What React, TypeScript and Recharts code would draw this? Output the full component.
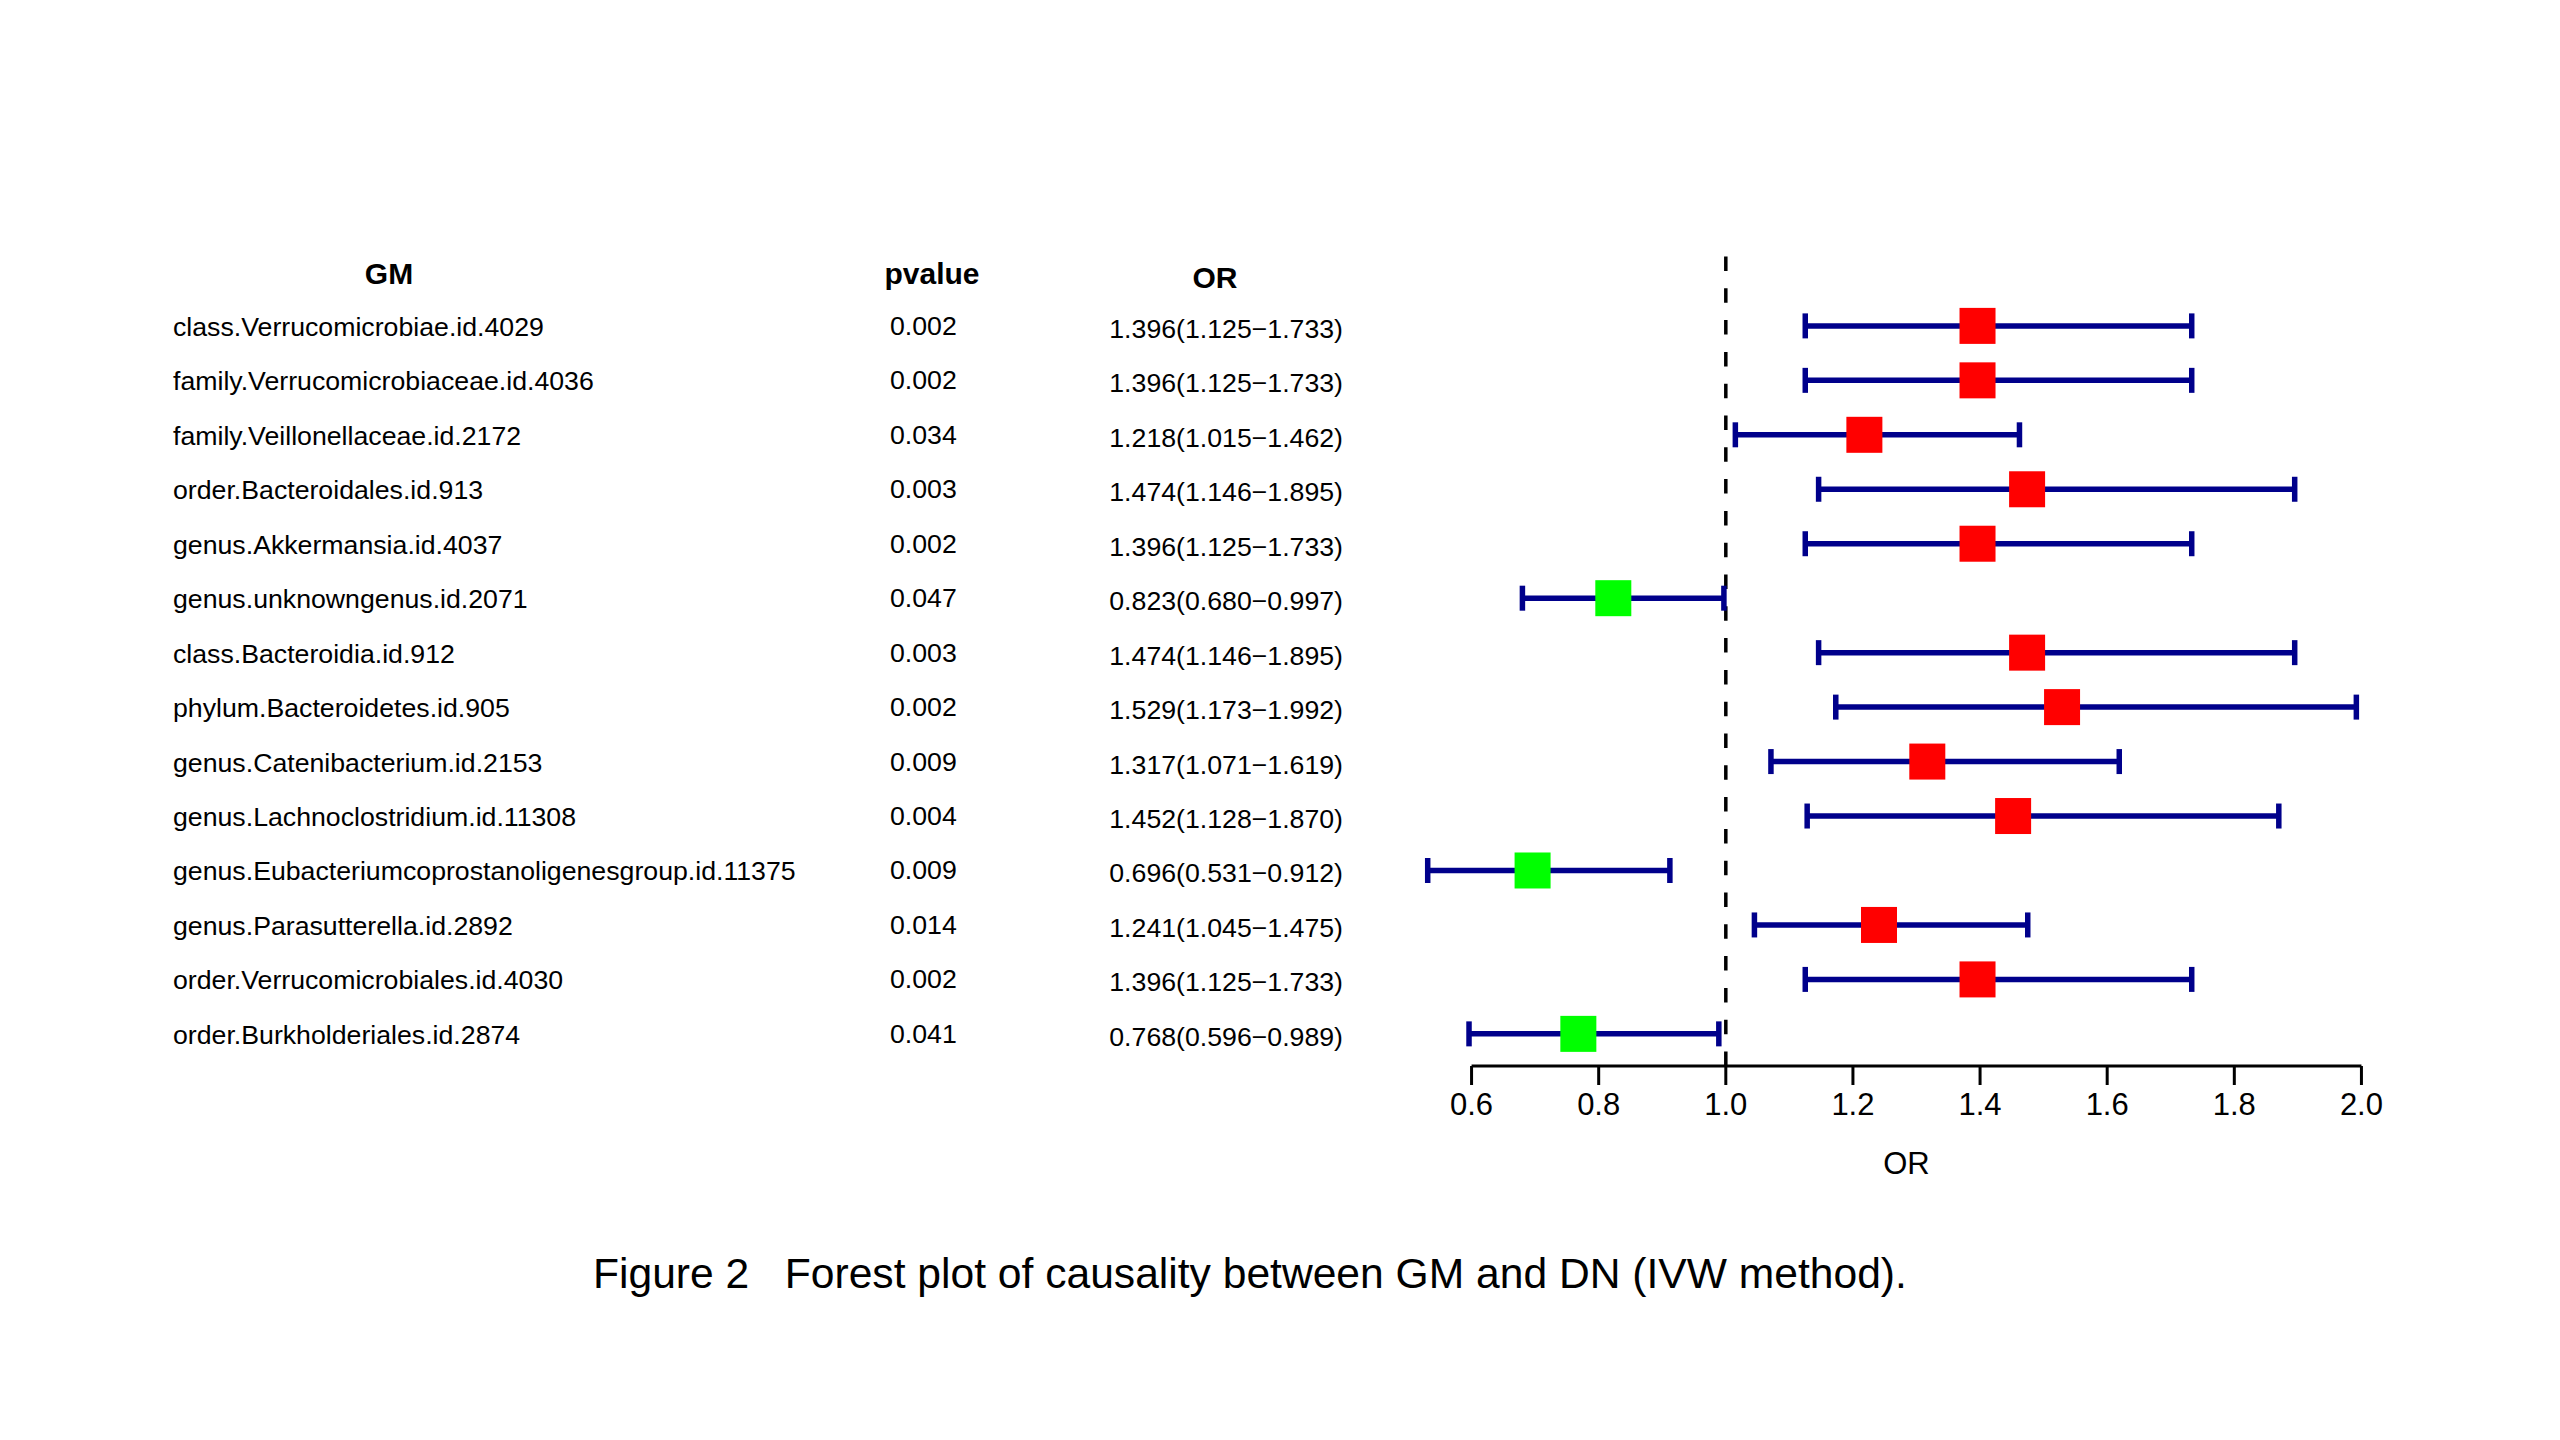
import React from 'react';
import { ScatterChart, Scatter, ErrorBar, XAxis, YAxis, ReferenceLine } from 'recharts';

// Gut microbiota taxa (GM) tested against DN, IVW estimates
const taxa = [
  'class.Verrucomicrobiae.id.4029',
  'family.Verrucomicrobiaceae.id.4036',
  'family.Veillonellaceae.id.2172',
  'order.Bacteroidales.id.913',
  'genus.Akkermansia.id.4037',
  'genus.unknowngenus.id.2071',
  'class.Bacteroidia.id.912',
  'phylum.Bacteroidetes.id.905',
  'genus.Catenibacterium.id.2153',
  'genus.Lachnoclostridium.id.11308',
  'genus.Eubacteriumcoprostanoligenesgroup.id.11375',
  'genus.Parasutterella.id.2892',
  'order.Verrucomicrobiales.id.4030',
  'order.Burkholderiales.id.2874',
];
const pValues = [0.002, 0.002, 0.034, 0.003, 0.002, 0.047, 0.003, 0.002, 0.009, 0.004, 0.009, 0.014, 0.002, 0.041];
const oddsRatios = [1.396, 1.396, 1.218, 1.474, 1.396, 0.823, 1.474, 1.529, 1.317, 1.452, 0.696, 1.241, 1.396, 0.768];
const lowerCI = [1.125, 1.125, 1.015, 1.146, 1.125, 0.68, 1.146, 1.173, 1.071, 1.128, 0.531, 1.045, 1.125, 0.596];
const upperCI = [1.733, 1.733, 1.462, 1.895, 1.733, 0.997, 1.895, 1.992, 1.619, 1.87, 0.912, 1.475, 1.733, 0.989];
const orTicks = [0.6, 0.8, 1.0, 1.2, 1.4, 1.6, 1.8, 2.0];
const columnHeaders = ['GM', 'pvalue', 'OR'];
const axisTitle = 'OR';
const caption = 'Figure 2   Forest plot of causality between GM and DN (IVW method).';

const rows = taxa.map((name, i) => ({
  row: i + 1,
  name,
  p: pValues[i],
  or: oddsRatios[i],
  lo: lowerCI[i],
  hi: upperCI[i],
  ci: [oddsRatios[i] - lowerCI[i], upperCI[i] - oddsRatios[i]],
}));

const FONT = '"Liberation Sans", Arial, Helvetica, sans-serif';
const W = 2544;
const H = 1424;
const Y_MIN = -0.32;
const Y_MAX = 14.59;
const rowTicks = [0, ...rows.map((r) => r.row)];

// columns of the table (chart coordinates)
const NAME_X = 165;
const P_X = 882;
const OR_X = 1335;

const fmtCI = (r: typeof rows[number]) =>
  `${r.or.toFixed(3)}(${r.lo.toFixed(3)}\u2212${r.hi.toFixed(3)})`;

// Each y tick draws one table row: taxon, p value and OR (95% CI)
const RowTick = (props: any) => {
  const { y, payload } = props;
  const idx = Math.round(payload.value);
  if (idx === 0) {
    return (
      <g fontFamily={FONT} fontWeight="bold" fontSize={30} fill="#000">
        <text x={381} y={y + 13} textAnchor="middle">{columnHeaders[0]}</text>
        <text x={924} y={y + 13} textAnchor="middle">{columnHeaders[1]}</text>
        <text x={1207} y={y + 17} textAnchor="middle">{columnHeaders[2]}</text>
      </g>
    );
  }
  const r = rows[idx - 1];
  return (
    <g fontFamily={FONT} fontSize={26.7} fill="#000">
      <text x={NAME_X} y={y + 10}>{r.name}</text>
      <text x={P_X} y={y + 9}>{r.p.toFixed(3)}</text>
      <text x={OR_X} y={y + 12} textAnchor="end">{fmtCI(r)}</text>
    </g>
  );
};

const Box = (props: any) => {
  const { cx, cy, payload } = props;
  const s = 36;
  return (
    <rect
      x={cx - s / 2}
      y={cy - s / 2}
      width={s}
      height={s}
      fill={payload.or > 1 ? '#FF0000' : '#00FF00'}
    />
  );
};

export default function App() {
  return (
    <div style={{ position: 'relative', width: W, height: H, background: '#fff' }}>
      <ScatterChart
        width={W}
        height={H}
        margin={{ top: 246, right: 127, bottom: 226, left: 0 }}
      >
        <XAxis
          type="number"
          dataKey="or"
          domain={[0.5, 2.1]}
          ticks={orTicks}
          interval={0}
          axisLine={false}
          tickLine={{ stroke: '#000', strokeWidth: 3 }}
          tickSize={19}
          tickMargin={8}
          height={140}
          tickFormatter={(v: number) => v.toFixed(1)}
          tick={{ fill: '#000', fontSize: 31, fontFamily: FONT }}
          label={{
            value: axisTitle,
            position: 'insideBottom',
            offset: 32,
            dx: -10,
            fill: '#000',
            fontSize: 31,
            fontFamily: FONT,
          }}
        />
        <YAxis
          type="number"
          dataKey="row"
          domain={[Y_MIN, Y_MAX]}
          reversed
          ticks={rowTicks}
          interval={0}
          width={1400}
          axisLine={false}
          tickLine={false}
          tick={<RowTick />}
        />
        <ReferenceLine
          x={1}
          stroke="#000"
          strokeWidth={3.5}
          strokeDasharray="14.5 17.3"
        />
        <ReferenceLine
          segment={[
            { x: orTicks[0], y: Y_MAX },
            { x: orTicks[orTicks.length - 1], y: Y_MAX },
          ]}
          stroke="#000"
          strokeWidth={3}
        />
        <Scatter data={rows} shape={<Box />} isAnimationActive={false}>
          <ErrorBar
            dataKey="ci"
            direction="x"
            width={12.5}
            stroke="#00008B"
            strokeWidth={5.5}
            isAnimationActive={false}
          />
        </Scatter>
      </ScatterChart>
      <div
        style={{
          position: 'absolute',
          left: 585,
          top: 1244,
          fontFamily: FONT,
          fontSize: 42.6,
          lineHeight: '43px',
          whiteSpace: 'pre',
          color: '#000',
        }}
      >
        {caption}
      </div>
    </div>
  );
}
